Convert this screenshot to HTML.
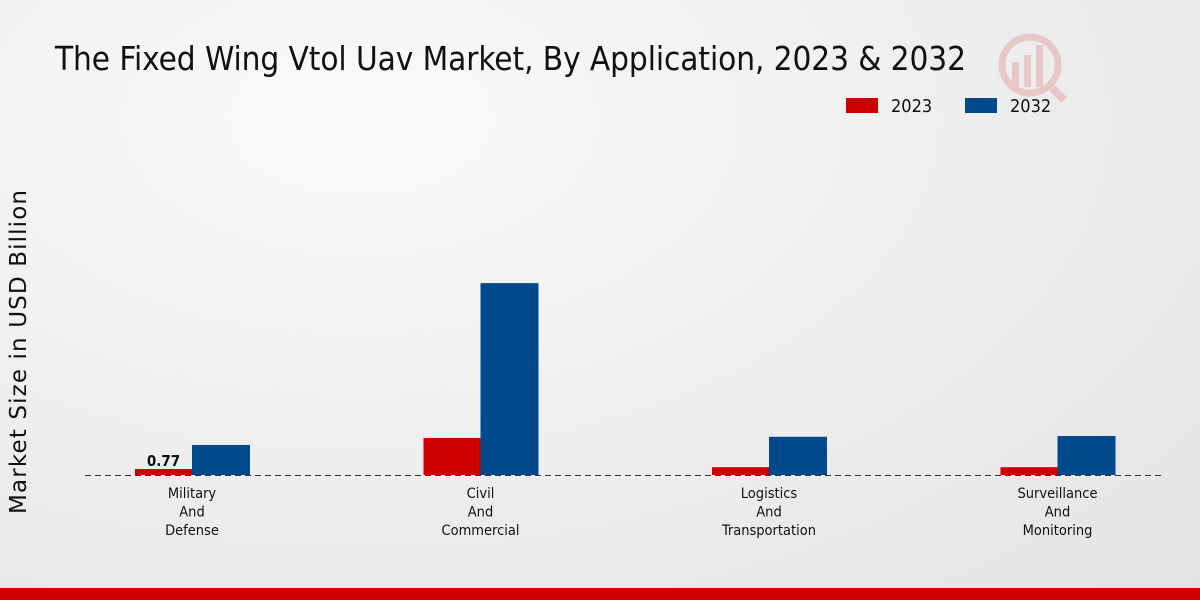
<!DOCTYPE html>
<html><head><meta charset="utf-8"><style>
body{margin:0;width:1200px;height:600px;overflow:hidden;background:radial-gradient(ellipse at 30% 20%,#fafafa 0%,#ececec 60%,#e4e4e4 100%);font-family:"DejaVu Sans Condensed","Liberation Sans Narrow","Liberation Sans",sans-serif;}
svg{position:absolute;left:0;top:0}
</style></head><body>
<svg width="1200" height="600">
<text x="55" y="70" font-size="33" fill="#111" textLength="911" style="font-family:'DejaVu Sans Condensed','Liberation Sans Narrow',sans-serif">The Fixed Wing Vtol Uav Market, By Application, 2023 &amp; 2032</text>
<g opacity="0.15">
<circle cx="1030" cy="65" r="28" fill="none" stroke="#c00" stroke-width="7"/>
<rect x="1012" y="62" width="7" height="25" fill="#c00"/><rect x="1024" y="55" width="7" height="32" fill="#c00"/><rect x="1036" y="45" width="7" height="42" fill="#c00"/>
<line x1="1052" y1="88" x2="1064" y2="100" stroke="#c00" stroke-width="8"/>
</g>
<g>
<rect x="846" y="98" width="32" height="15" fill="#cc0000"/>
<text x="891" y="112" font-size="18" fill="#111">2023</text>
<rect x="965" y="98" width="32" height="15" fill="#004a8c"/>
<text x="1010" y="112" font-size="18" fill="#111">2032</text>
</g>
<text transform="translate(26,352) rotate(-90)" text-anchor="middle" font-size="23" textLength="324" fill="#111" style="font-family:'DejaVu Sans','Liberation Sans',sans-serif">Market Size in USD Billion</text>
<g id="plot"></g>
<rect x="0" y="588" width="1200" height="12" fill="#cc0000"/>
</svg>
<script>
const categories=[["Military","And","Defense"],["Civil","And","Commercial"],["Logistics","And","Transportation"],["Surveillance","And","Monitoring"]];
const values2023=[0.77,4.75,1.0,1.0];
const values2032=[3.85,24.6,4.9,5.0];
const baseY=475, pxPerUnit=7.8, startX=192, step=288.5, barW=57;
const y=v=>baseY-v*pxPerUnit;
const x=i=>startX+i*step;
const g=document.getElementById('plot');
const NS='http://www.w3.org/2000/svg';
function mk(t,a){const e=document.createElementNS(NS,t);for(const k in a)e.setAttribute(k,a[k]);g.appendChild(e);return e;}
const ax=mk('line',{x1:85,x2:1165,y1:baseY+0.5,y2:baseY+0.5,stroke:'#333','stroke-dasharray':'6,4','stroke-width':1});


categories.forEach((c,i)=>{
 const b1=mk('rect',{x:x(i)-barW,y:y(values2023[i]),width:barW,height:baseY-y(values2023[i]),fill:'#cc0000'});
 
 
 const b2=mk('rect',{x:x(i),y:y(values2032[i]),width:barW+1,height:baseY-y(values2032[i]),fill:'#004a8c'});
 
 
 c.forEach((l,j)=>{
  const t=mk('text',{x:x(i),y:498+j*18.5,'text-anchor':'middle','font-size':14.5,fill:'#111'});
  t.textContent=l;
  
  
 });
});
const vl=mk('text',{x:x(0)-barW/2,y:y(values2023[0])-3,'text-anchor':'middle','font-size':15,'font-weight':'bold',fill:'#111'});
vl.textContent=values2023[0].toFixed(2);


</script>
</body></html>
